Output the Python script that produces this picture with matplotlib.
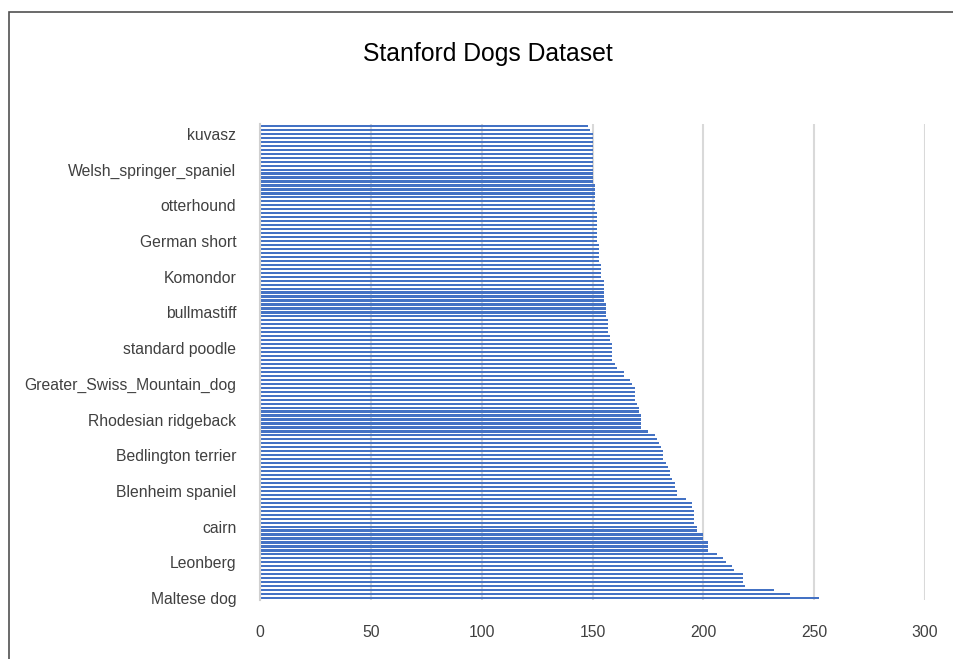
import matplotlib.pyplot as plt
from matplotlib.patches import Rectangle

# numero de imagenes por raza (de abajo hacia arriba, orden descendente)
images = [252, 239, 232, 219, 218, 218, 218, 214, 213, 210,
          209, 206, 202, 202, 202, 200, 200, 197, 197, 196,
          196, 196, 196, 195, 195, 192, 188, 188, 187, 187,
          186, 185, 185, 184, 183, 182, 182, 182, 181, 180,
          179, 178, 175, 172, 172, 172, 172, 171, 171, 170,
          169, 169, 169, 169, 168, 167, 164, 164, 161, 160,
          159, 159, 159, 159, 159, 158, 158, 157, 157, 157,
          157, 156, 156, 156, 156, 155, 155, 155, 155, 155,
          155, 154, 154, 154, 154, 153, 153, 153, 153, 153,
          152, 152, 152, 152, 152, 152, 152, 152, 151, 151,
          151, 151, 151, 151, 151, 150, 150, 150, 150, 150,
          150, 150, 150, 150, 150, 150, 150, 150, 149, 148]

# solo se ve una etiqueta cada 9 categorias
tick_labels = ["Maltese dog", "Leonberg", "cairn", "Blenheim spaniel",
               "Bedlington terrier", "Rhodesian ridgeback",
               "Greater_Swiss_Mountain_dog", "standard poodle", "bullmastiff",
               "Komondor", "German short", "otterhound",
               "Welsh_springer_spaniel", "kuvasz"]
label_step = 9

x_ticks = [0, 50, 100, 150, 200, 250, 300]

plt.rcParams['font.family'] = ['Liberation Sans', 'DejaVu Sans']

W, H = 954, 659
fig = plt.figure(figsize=(W / 100, H / 100), dpi=100)
ax = fig.add_axes([260 / W, (H - 600) / H, (925 - 260) / W, (600 - 124) / H])

pos = list(range(len(images)))
ax.barh(pos, images, height=0.55, color="#4472C4", zorder=2)

ax.set_xlim(0, 300)
ax.set_ylim(-0.5, len(images) - 0.5)
ax.set_xticks(x_ticks)
ax.set_xticklabels([str(t) for t in x_ticks])
ax.set_yticks(pos[::label_step])
ax.set_yticklabels(tick_labels)

ax.tick_params(axis="both", length=0, labelsize=11.3, labelcolor="#404040")
ax.tick_params(axis="y", pad=17)
ax.tick_params(axis="x", pad=18)

ax.grid(axis="x", color="#D9D9D9", linewidth=1.5, zorder=0)
ax.set_axisbelow(True)
for s in ["top", "right", "bottom"]:
    ax.spines[s].set_visible(False)
ax.spines["left"].set_color("#D0D0D0")
ax.spines["left"].set_linewidth(1.5)

fig.text(488 / W, 1 - 54 / H, "Stanford Dogs Dataset", ha="center", va="center",
         fontsize=17.8, color="#000000")

# borde del grafico
fig.patches.append(Rectangle((9 / W, -0.1), 1.2, 1.1 - 12 / H,
                             transform=fig.transFigure, fill=False,
                             edgecolor="#505050", linewidth=1.2))

fig.savefig("out.png", dpi=100)
